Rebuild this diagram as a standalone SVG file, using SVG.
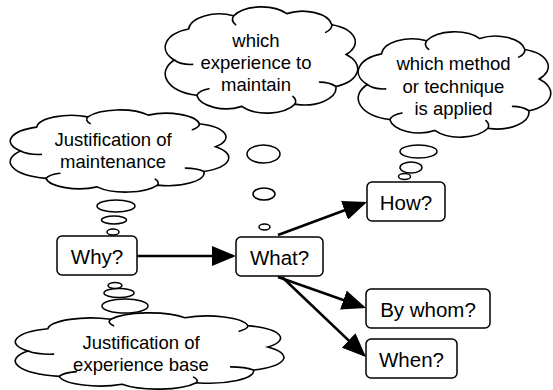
<svg xmlns="http://www.w3.org/2000/svg" xmlns:xlink="http://www.w3.org/1999/xlink" width="553" height="390" viewBox="0 0 553 390">
  <style>
    .cloud path { fill: none; stroke: #000; stroke-width: 1.6; vector-effect: non-scaling-stroke; stroke-linecap: round; }
    .cloud path.body { fill: #fff; }
    .bubble { fill: #fff; stroke: #000; stroke-width: 1.5; }
    .box { fill: #fff; stroke: #000; stroke-width: 1.5; }
    .ctext { font-family: "Liberation Sans", Arial, sans-serif; font-size: 18.5px; fill: #000; text-anchor: middle; }
    .btext { font-family: "Liberation Sans", Arial, sans-serif; font-size: 20.5px; fill: #000; text-anchor: middle; }
    .edge { stroke: #000; stroke-width: 2.6; fill: none; }
  </style>
  <defs>
    <!-- unit thought cloud in a 100x100 box, stretched per use -->
    <symbol id="cloudShape" viewBox="0 0 100 100" preserveAspectRatio="none" overflow="visible">
      <g class="cloud">
        <path class="body" d="M9,50 A17.5,17.5 0 0 1 16,22 A15,15 0 0 1 38,10 A15.5,15.5 0 0 1 64,8 A14.5,14.5 0 0 1 86,18 A16.5,16.5 0 0 1 93,45 A17.5,17.5 0 0 1 88,74 A15.5,15.5 0 0 1 68,90 A15.5,15.5 0 0 1 42,92 A14.5,14.5 0 0 1 20,82 A20,20 0 0 1 9,50 Z"/>
        <path d="M9,50 A10,10 0 0 0 18,54"/>
        <path d="M38,10 A9,9 0 0 0 39,18"/>
        <path d="M86,18 A9,9 0 0 1 83,25"/>
        <path d="M88,74 A10,10 0 0 0 80,70"/>
        <path d="M68,90 A9,9 0 0 0 67,83"/>
        <path d="M20,82 A9,9 0 0 1 26,76"/>
      </g>
    </symbol>
    <marker id="arrow" markerUnits="userSpaceOnUse" markerWidth="24" markerHeight="20" refX="21" refY="10" orient="auto">
      <path d="M0,0 L24,10 L0,20 Z" fill="#000"/>
    </marker>
  </defs>

  <!-- thought clouds -->
  <g id="cloud-maintenance">
    <use xlink:href="#cloudShape" x="-0.5" y="108.3" width="232.4" height="85.4"/>
    <text class="ctext" x="113" y="146">Justification of</text>
    <text class="ctext" x="113" y="168">maintenance</text>
    <ellipse class="bubble" cx="116" cy="206" rx="19" ry="6"/>
    <ellipse class="bubble" cx="114" cy="220" rx="12.5" ry="4"/>
    <ellipse class="bubble" cx="113" cy="232" rx="6" ry="3"/>
  </g>

  <g id="cloud-experience">
    <use xlink:href="#cloudShape" x="155.8" y="4.8" width="204.7" height="110.4"/>
    <text class="ctext" x="256" y="47">which</text>
    <text class="ctext" x="256" y="69">experience to</text>
    <text class="ctext" x="256" y="91">maintain</text>
    <ellipse class="bubble" cx="263.5" cy="154" rx="16.5" ry="9"/>
    <ellipse class="bubble" cx="264" cy="194" rx="11" ry="6"/>
    <ellipse class="bubble" cx="264.5" cy="227" rx="5.5" ry="3"/>
  </g>

  <g id="cloud-method">
    <use xlink:href="#cloudShape" x="348.8" y="29.8" width="204.7" height="109.4"/>
    <text class="ctext" x="453.5" y="70">which method</text>
    <text class="ctext" x="453.5" y="92.5">or technique</text>
    <text class="ctext" x="453.5" y="115">is applied</text>
    <ellipse class="bubble" cx="418.5" cy="151.5" rx="18.5" ry="6.5"/>
    <ellipse class="bubble" cx="411" cy="167.5" rx="11" ry="5.5"/>
    <ellipse class="bubble" cx="404.5" cy="176.5" rx="6" ry="3"/>
  </g>

  <g id="cloud-base">
    <use xlink:href="#cloudShape" x="2.1" y="311.4" width="285.7" height="79.2"/>
    <text class="ctext" x="141" y="349">Justification of</text>
    <text class="ctext" x="141" y="371">experience base</text>
    <ellipse class="bubble" cx="125" cy="306" rx="23" ry="7"/>
    <ellipse class="bubble" cx="119" cy="293" rx="15" ry="4.5"/>
    <ellipse class="bubble" cx="115" cy="285.5" rx="7" ry="3"/>
  </g>

  <!-- connectors -->
  <g id="connectors">
    <line class="edge" x1="137" y1="256" x2="233" y2="256" marker-end="url(#arrow)"/>
    <line class="edge" x1="278" y1="235" x2="364.2" y2="203" marker-end="url(#arrow)"/>
    <line class="edge" x1="278" y1="277" x2="363.2" y2="307" marker-end="url(#arrow)"/>
    <line class="edge" x1="282" y1="277" x2="363.8" y2="354.9" marker-end="url(#arrow)"/>
  </g>

  <!-- question nodes -->
  <g id="node-why">
    <rect class="box" x="57" y="236" width="80" height="39" rx="5"/>
    <text class="btext" x="97" y="263.5">Why?</text>
  </g>
  <g id="node-what">
    <rect class="box" x="236" y="237" width="87" height="39" rx="5"/>
    <text class="btext" x="279.5" y="264.5">What?</text>
  </g>
  <g id="node-how">
    <rect class="box" x="367" y="182" width="78" height="39" rx="5"/>
    <text class="btext" x="406" y="209.5">How?</text>
  </g>
  <g id="node-bywhom">
    <rect class="box" x="366" y="289" width="124" height="39" rx="5"/>
    <text class="btext" x="428" y="316.5">By whom?</text>
  </g>
  <g id="node-when">
    <rect class="box" x="366" y="339" width="91" height="39" rx="5"/>
    <text class="btext" x="411.5" y="366.5">When?</text>
  </g>
</svg>
